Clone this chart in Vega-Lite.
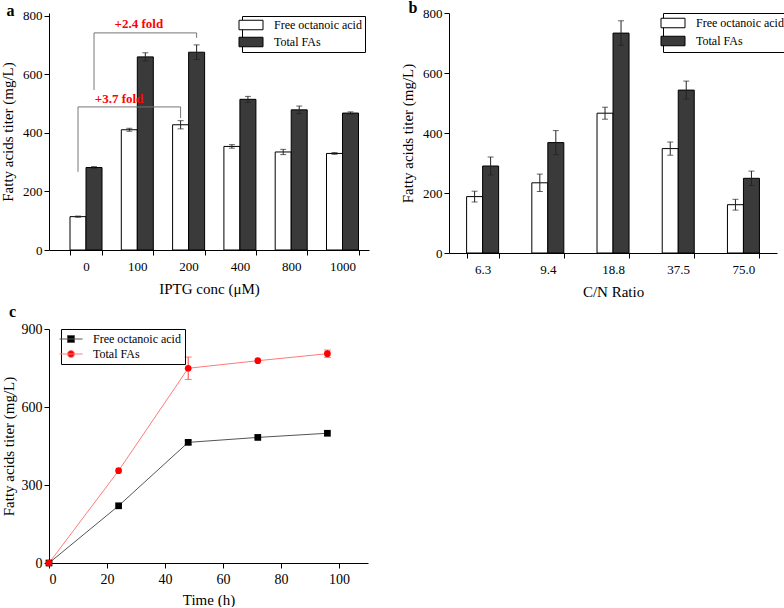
{
  "$schema": "https://vega.github.io/schema/vega-lite/v6.json",
  "padding": {"left": 0, "top": 0, "right": 0, "bottom": 0},
  "background": "white",
  "bounds": "flush",
  "columns": 2,
  "spacing": {"row": 76, "column": 80},
  "resolve": {"scale": {"fill": "independent", "shape": "independent", "stroke": "independent", "color": "independent"}, "legend": {"fill": "independent", "shape": "independent", "stroke": "independent"}},
  "config": {
    "font": "Liberation Serif",
    "view": {"stroke": null},
    "axis": {"grid": false, "domainColor": "black", "tickColor": "black", "labelColor": "black", "titleColor": "black", "titleFontWeight": "normal", "labelFont": "Liberation Serif", "titleFont": "Liberation Serif", "titleFontSize": 15, "labelFontSize": 13, "domainWidth": 1, "tickWidth": 1, "labelOverlap": false},
    "legend": {"labelFont": "Liberation Serif", "labelColor": "black"},
    "title": {"font": "Liberation Serif", "fontWeight": "bold", "fontSize": 16, "anchor": "start", "color": "black", "baseline": "alphabetic"}
  },
  "datasets": {
    "a": [
      {"conc": "0", "series": "Free octanoic acid", "value": 114, "err": 2},
      {"conc": "100", "series": "Free octanoic acid", "value": 411, "err": 5},
      {"conc": "200", "series": "Free octanoic acid", "value": 428, "err": 14},
      {"conc": "400", "series": "Free octanoic acid", "value": 354, "err": 6},
      {"conc": "800", "series": "Free octanoic acid", "value": 335, "err": 9},
      {"conc": "1000", "series": "Free octanoic acid", "value": 330, "err": 3},
      {"conc": "0", "series": "Total FAs", "value": 282, "err": 3},
      {"conc": "100", "series": "Total FAs", "value": 660, "err": 14},
      {"conc": "200", "series": "Total FAs", "value": 676, "err": 25},
      {"conc": "400", "series": "Total FAs", "value": 515, "err": 10},
      {"conc": "800", "series": "Total FAs", "value": 479, "err": 13},
      {"conc": "1000", "series": "Total FAs", "value": 468, "err": 4}
    ],
    "annFree": [
      {"conc": "0", "conc2": "200", "y1": 489, "y2": 489},
      {"conc": "0", "conc2": "0", "y1": 267, "y2": 489},
      {"conc": "200", "conc2": "200", "y1": 451, "y2": 489}
    ],
    "annTotal": [
      {"conc": "0", "conc2": "200", "y1": 742, "y2": 742},
      {"conc": "0", "conc2": "0", "y1": 547, "y2": 742},
      {"conc": "200", "conc2": "200", "y1": 725, "y2": 742}
    ],
    "txt24": [{"conc": "100", "y": 773, "label": "+2.4 fold"}],
    "txt37": [{"conc": "100", "y": 516, "label": "+3.7 fold"}],
    "b": [
      {"cn": "6.3", "series": "Free octanoic acid", "value": 188, "err": 18},
      {"cn": "9.4", "series": "Free octanoic acid", "value": 234, "err": 29},
      {"cn": "18.8", "series": "Free octanoic acid", "value": 466, "err": 20},
      {"cn": "37.5", "series": "Free octanoic acid", "value": 348, "err": 22},
      {"cn": "75.0", "series": "Free octanoic acid", "value": 161, "err": 18},
      {"cn": "6.3", "series": "Total FAs", "value": 290, "err": 30},
      {"cn": "9.4", "series": "Total FAs", "value": 368, "err": 40},
      {"cn": "18.8", "series": "Total FAs", "value": 733, "err": 41},
      {"cn": "37.5", "series": "Total FAs", "value": 543, "err": 30},
      {"cn": "75.0", "series": "Total FAs", "value": 249, "err": 24}
    ],
    "c": [
      {"time": 0, "series": "Free octanoic acid", "value": 0, "err": 0},
      {"time": 24, "series": "Free octanoic acid", "value": 220, "err": 0},
      {"time": 48, "series": "Free octanoic acid", "value": 464, "err": 8},
      {"time": 72, "series": "Free octanoic acid", "value": 483, "err": 0},
      {"time": 96, "series": "Free octanoic acid", "value": 499, "err": 0},
      {"time": 0, "series": "Total FAs", "value": 0, "err": 0},
      {"time": 24, "series": "Total FAs", "value": 355, "err": 0},
      {"time": 48, "series": "Total FAs", "value": 749, "err": 43},
      {"time": 72, "series": "Total FAs", "value": 778, "err": 0},
      {"time": 96, "series": "Total FAs", "value": 805, "err": 14}
    ]
  },
  "concat": [
    {
      "width": 320,
      "height": 237,
      "title": {"text": "a", "dx": 6, "offset": -9},
      "layer": [
        {
          "data": {"name": "a"},
          "mark": {"type": "bar", "stroke": "black", "strokeWidth": 1},
          "encoding": {
            "x": {"field": "conc", "type": "nominal", "title": "IPTG conc (μM)",
              "scale": {"domain": ["0", "100", "200", "400", "800", "1000"], "paddingInner": 0.376, "paddingOuter": 0.307, "align": 0.667},
              "axis": {"title": "IPTG conc (μM)", "labelAngle": 0, "tickBand": "extent", "tickSize": 5, "labelPadding": 5, "titlePadding": 8}},
            "xOffset": {"field": "series", "type": "nominal", "sort": ["Free octanoic acid", "Total FAs"], "scale": {"paddingInner": 0, "paddingOuter": 0}},
            "y": {"field": "value", "type": "quantitative", "title": "Fatty acids titer (mg/L)", "scale": {"domain": [0, 810], "nice": false},
              "axis": {"title": "Fatty acids titer (mg/L)", "values": [0, 50, 100, 150, 200, 250, 300, 350, 400, 450, 500, 550, 600, 650, 700, 750, 800],
                "labelExpr": "datum.value % 100 === 0 ? datum.label : ''",
                "tickSize": 5,
                "tickDash": {"condition": {"test": "datum.value % 100 !== 0", "value": [3, 10]}, "value": [10, 0]},
                "labelPadding": 2, "titlePadding": 7}},
            "fill": {"field": "series", "type": "nominal", "scale": {"domain": ["Free octanoic acid", "Total FAs"], "range": ["white", "#3a3a3a"]},
              "legend": {"title": null, "orient": "none", "legendX": 193, "legendY": 3, "strokeColor": "black", "padding": 3,
                "symbolType": "M-2.4,-0.95H2.4V0.95H-2.4Z", "symbolSize": 100, "symbolStrokeColor": "black", "symbolStrokeWidth": 1,
                "labelFontSize": 12, "rowPadding": 3, "labelOffset": 17}}
          }
        },
        {
          "data": {"name": "a"},
          "mark": {"type": "errorbar", "ticks": {"size": 6}, "color": "#222222"},
          "encoding": {
            "x": {"field": "conc", "type": "nominal", "title": "IPTG conc (μM)"},
            "xOffset": {"field": "series", "type": "nominal", "sort": ["Free octanoic acid", "Total FAs"]},
            "y": {"field": "value", "type": "quantitative", "title": "Fatty acids titer (mg/L)"},
            "yError": {"field": "err"}
          }
        },
        {
          "data": {"name": "annFree"},
          "mark": {"type": "rule", "color": "#777777", "strokeWidth": 1},
          "encoding": {
            "x": {"field": "conc", "type": "nominal", "bandPosition": 0.25, "title": "IPTG conc (μM)"},
            "x2": {"field": "conc2", "bandPosition": 0.25},
            "y": {"field": "y1", "type": "quantitative", "title": "Fatty acids titer (mg/L)"},
            "y2": {"field": "y2"}
          }
        },
        {
          "data": {"name": "annTotal"},
          "mark": {"type": "rule", "color": "#777777", "strokeWidth": 1},
          "encoding": {
            "x": {"field": "conc", "type": "nominal", "bandPosition": 0.75, "title": "IPTG conc (μM)"},
            "x2": {"field": "conc2", "bandPosition": 0.75},
            "y": {"field": "y1", "type": "quantitative", "title": "Fatty acids titer (mg/L)"},
            "y2": {"field": "y2"}
          }
        },
        {
          "data": {"name": "txt24"},
          "mark": {"type": "text", "color": "#ff0000", "fontWeight": "bold", "fontSize": 13, "font": "Liberation Serif"},
          "encoding": {
            "x": {"field": "conc", "type": "nominal", "bandPosition": 0.55, "title": "IPTG conc (μM)"},
            "y": {"field": "y", "type": "quantitative", "title": "Fatty acids titer (mg/L)"},
            "text": {"field": "label"}
          }
        },
        {
          "data": {"name": "txt37"},
          "mark": {"type": "text", "color": "#ff0000", "fontWeight": "bold", "fontSize": 13, "font": "Liberation Serif"},
          "encoding": {
            "x": {"field": "conc", "type": "nominal", "bandPosition": -0.07, "title": "IPTG conc (μM)"},
            "y": {"field": "y", "type": "quantitative", "title": "Fatty acids titer (mg/L)"},
            "text": {"field": "label"}
          }
        }
      ]
    },
    {
      "width": 328,
      "height": 240,
      "title": {"text": "b", "dx": 8, "offset": -9},
      "layer": [
        {
          "data": {"name": "b"},
          "mark": {"type": "bar", "stroke": "black", "strokeWidth": 1},
          "encoding": {
            "x": {"field": "cn", "type": "nominal", "title": "C/N Ratio",
              "scale": {"domain": ["6.3", "9.4", "18.8", "37.5", "75.0"], "paddingInner": 0.51, "paddingOuter": 0.27, "align": 0.5},
              "axis": {"title": "C/N Ratio", "labelAngle": 0, "tickBand": "extent", "tickSize": 5, "labelPadding": 5, "titlePadding": 8}},
            "xOffset": {"field": "series", "type": "nominal", "sort": ["Free octanoic acid", "Total FAs"], "scale": {"paddingInner": 0, "paddingOuter": 0}},
            "y": {"field": "value", "type": "quantitative", "title": "Fatty acids titer (mg/L)", "scale": {"domain": [0, 800], "nice": false},
              "axis": {"title": "Fatty acids titer (mg/L)", "values": [0, 50, 100, 150, 200, 250, 300, 350, 400, 450, 500, 550, 600, 650, 700, 750, 800],
                "labelExpr": "datum.value % 100 === 0 ? datum.label : ''",
                "tickSize": 5,
                "tickDash": {"condition": {"test": "datum.value % 100 !== 0", "value": [3, 10]}, "value": [10, 0]},
                "labelPadding": 2, "titlePadding": 7}},
            "fill": {"field": "series", "type": "nominal", "scale": {"domain": ["Free octanoic acid", "Total FAs"], "range": ["white", "#3a3a3a"]},
              "legend": {"title": null, "orient": "none", "legendX": 214, "legendY": 0, "strokeColor": "black", "padding": 4,
                "symbolType": "M-2.4,-0.95H2.4V0.95H-2.4Z", "symbolSize": 100, "symbolStrokeColor": "black", "symbolStrokeWidth": 1,
                "labelFontSize": 12, "rowPadding": 4, "labelOffset": 17}}
          }
        },
        {
          "data": {"name": "b"},
          "mark": {"type": "errorbar", "ticks": {"size": 6}, "color": "#222222"},
          "encoding": {
            "x": {"field": "cn", "type": "nominal", "title": "C/N Ratio"},
            "xOffset": {"field": "series", "type": "nominal", "sort": ["Free octanoic acid", "Total FAs"]},
            "y": {"field": "value", "type": "quantitative", "title": "Fatty acids titer (mg/L)"},
            "yError": {"field": "err"}
          }
        }
      ]
    },
    {
      "width": 319,
      "height": 234,
      "title": {"text": "c", "dx": 8, "offset": 2},
      "layer": [
        {
          "data": {"name": "c"},
          "mark": {"type": "line", "strokeWidth": 1},
          "encoding": {
            "x": {"field": "time", "type": "quantitative", "title": "Time (h)", "scale": {"domain": [0, 110], "nice": false},
              "axis": {"title": "Time (h)", "values": [0, 10, 20, 30, 40, 50, 60, 70, 80, 90, 100, 110],
                "labelExpr": "datum.value % 20 === 0 && datum.value <= 100 ? datum.label : ''",
                "tickSize": 5,
                "tickDash": {"condition": {"test": "datum.value % 20 !== 0", "value": [3, 10]}, "value": [10, 0]},
                "labelFontSize": 14, "labelPadding": 4, "titlePadding": 6}},
            "y": {"field": "value", "type": "quantitative", "title": "Fatty acids titer (mg/L)", "scale": {"domain": [0, 900], "nice": false},
              "axis": {"title": "Fatty acids titer (mg/L)", "values": [0, 75, 150, 225, 300, 375, 450, 525, 600, 675, 750, 825, 900],
                "labelExpr": "datum.value % 150 === 0 ? datum.label : ''",
                "tickSize": 5,
                "tickDash": {"condition": {"test": "datum.value % 150 !== 0", "value": [3, 10]}, "value": [10, 0]},
                "labelFontSize": 14, "labelPadding": 2, "titlePadding": 5}},
            "stroke": {"field": "series", "type": "nominal", "scale": {"domain": ["Free octanoic acid", "Total FAs"], "range": ["#555555", "#ff7a7a"]},
              "legend": {"title": null, "orient": "none", "legendX": 12, "legendY": 0, "strokeColor": "black", "padding": 4,
                "labelFontSize": 12, "rowPadding": 3, "labelOffset": 16, "symbolSize": 100,
                "symbolType": "M-2.3,0H2.3M0.7,0A0.7,0.7 0 1,1 -0.7,0A0.7,0.7 0 1,1 0.7,0Z",
                "encode": {"symbols": {"update": {
                  "shape": {"signal": "datum.value === 'Total FAs' ? 'M-2.3,0H2.3M0.7,0A0.7,0.7 0 1,1 -0.7,0A0.7,0.7 0 1,1 0.7,0Z' : 'M-2.3,0H2.3M-0.7,-0.7H0.7V0.7H-0.7Z'"},
                  "stroke": {"signal": "datum.value === 'Total FAs' ? '#ff3030' : '#222222'"},
                  "fill": {"signal": "datum.value === 'Total FAs' ? '#ff0000' : '#000000'"},
                  "strokeWidth": {"value": 1},
                  "size": {"value": 100},
                  "opacity": {"value": 1}
                }}}}}
          }
        },
        {
          "data": {"name": "c"},
          "transform": [{"filter": "datum.series === 'Total FAs' && datum.err > 0"}],
          "mark": {"type": "errorbar", "ticks": {"size": 7}, "color": "#ff4040"},
          "encoding": {
            "x": {"field": "time", "type": "quantitative", "title": "Time (h)"},
            "y": {"field": "value", "type": "quantitative", "title": "Fatty acids titer (mg/L)"},
            "yError": {"field": "err"}
          }
        },
        {
          "data": {"name": "c"},
          "transform": [{"filter": "datum.series === 'Free octanoic acid' && datum.err > 0"}],
          "mark": {"type": "errorbar", "ticks": {"size": 7}, "color": "#333333"},
          "encoding": {
            "x": {"field": "time", "type": "quantitative", "title": "Time (h)"},
            "y": {"field": "value", "type": "quantitative", "title": "Fatty acids titer (mg/L)"},
            "yError": {"field": "err"}
          }
        },
        {
          "data": {"name": "c"},
          "transform": [{"filter": "datum.series === 'Free octanoic acid'"}],
          "mark": {"type": "point", "filled": true, "size": 45, "opacity": 1, "shape": "square", "color": "#000000"},
          "encoding": {
            "x": {"field": "time", "type": "quantitative", "title": "Time (h)"},
            "y": {"field": "value", "type": "quantitative", "title": "Fatty acids titer (mg/L)"}
          }
        },
        {
          "data": {"name": "c"},
          "transform": [{"filter": "datum.series === 'Total FAs'"}],
          "mark": {"type": "point", "filled": true, "size": 45, "opacity": 1, "shape": "circle", "color": "#ff0000"},
          "encoding": {
            "x": {"field": "time", "type": "quantitative", "title": "Time (h)"},
            "y": {"field": "value", "type": "quantitative", "title": "Fatty acids titer (mg/L)"}
          }
        }
      ]
    }
  ]
}
